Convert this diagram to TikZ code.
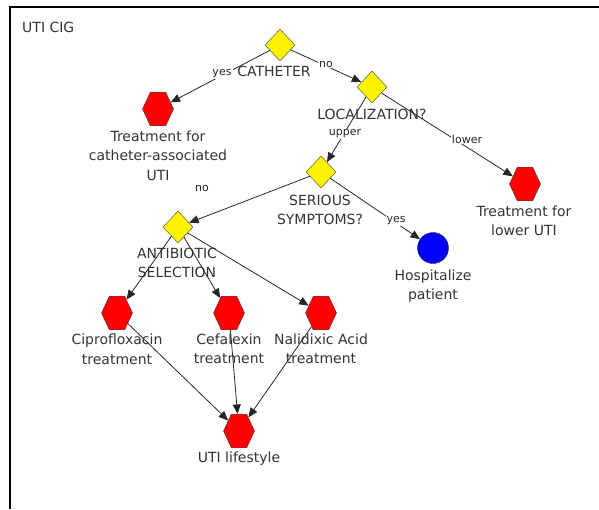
\documentclass[tikz,border=0pt]{standalone}
\usepackage{fontspec}
\setmainfont{DejaVu Sans}
\usetikzlibrary{shapes.geometric,arrows.meta}
\begin{document}
\begin{tikzpicture}[x=1pt,y=-1pt,
  dec/.style={diamond, draw=black!75, fill=yellow, minimum width=30pt, minimum height=32pt, inner sep=0pt},
  act/.style={regular polygon, regular polygon sides=6, draw=black!75, fill=red, minimum size=31pt, inner sep=0pt, yscale=1.25},
  ent/.style={circle, draw=black!85, fill=blue, minimum size=31pt, inner sep=0pt},
  lbl/.style={anchor=north, align=center, inner sep=0pt, text=black!80, font=\fontsize{14}{19.5}\selectfont},
  elbl/.style={fill=white, inner sep=1pt, text=black!85, font=\fontsize{11}{13}\selectfont},
  edge/.style={draw=black!85, line width=0.8pt, -{Triangle[length=9.5pt,width=8pt]}}]
\useasboundingbox (0,0) rectangle (599,509);
\draw[line width=1.2pt] (10,509) -- (10,7) -- (599,7);
\node[anchor=base west, inner sep=0pt, text=black!80, font=\fontsize{14}{17}\selectfont] (title) at (22,32) {UTI CIG};

% shapes
\node[dec] (cath) at (280,45) {};
\node[dec] (loc) at (372,87) {};
\node[dec] (ser) at (321,172) {};
\node[act] (tlow) at (525,184) {};
\node[ent] (hosp) at (433,248) {};
\node[act] (tcath) at (158,109) {};
\node[dec] (anti) at (178,227) {};
\node[act] (cipro) at (117,313) {};
\node[act] (cef) at (229,313) {};
\node[act] (nal) at (321,313) {};
\node[act] (life) at (239,431) {};

% labels
\node[lbl] (cathL) at (274,65.5) {CATHETER};
\node[lbl] (locL) at (372,108.5) {LOCALIZATION?};
\node[lbl] (serL) at (320,194.5) {SERIOUS\\SYMPTOMS?};
\node[lbl] (tlowL) at (524,205.5) {Treatment for\\lower UTI};
\node[lbl] (hospL) at (433,269.5) {Hospitalize\\patient};
\node[lbl] (tcathL) at (158,130.5) {Treatment for\\catheter-associated\\UTI};
\node[lbl] (antiL) at (177,247.5) {ANTIBIOTIC\\SELECTION};
\node[lbl] (ciproL) at (117,334) {Ciprofloxacin\\treatment};
\node[lbl] (cefL) at (229,333.5) {Cefalexin\\treatment};
\node[lbl] (nalL) at (321,333.5) {Nalidixic Acid\\treatment};
\node[lbl] (lifeL) at (239,451.5) {UTI lifestyle};

% edges
\draw[edge] (cath) -- (tcath);
\draw[edge] (cath) -- (loc);
\draw[edge] (loc) -- (ser);
\draw[edge] (loc) -- (tlow);
\draw[edge] (ser) -- (hosp);
\draw[edge] (ser) -- (anti);
\draw[edge] (anti) -- (cipro);
\draw[edge] (anti) -- (cef);
\draw[edge] (anti) -- (nal);
\draw[edge] (cipro) -- (life);
\draw[edge] (cef) -- (life);
\draw[edge] (nal) -- (life);

% edge labels
\node[elbl] (e1) at (222,74) {yes};
\node[elbl] (e2) at (326,64) {no};
\node[elbl] (e3) at (345,134) {upper};
\node[elbl] (e4) at (467,139) {lower};
\node[elbl] (e5) at (396,221) {yes};
\node[elbl] (e6) at (202,188) {no};
\end{tikzpicture}
\end{document}
